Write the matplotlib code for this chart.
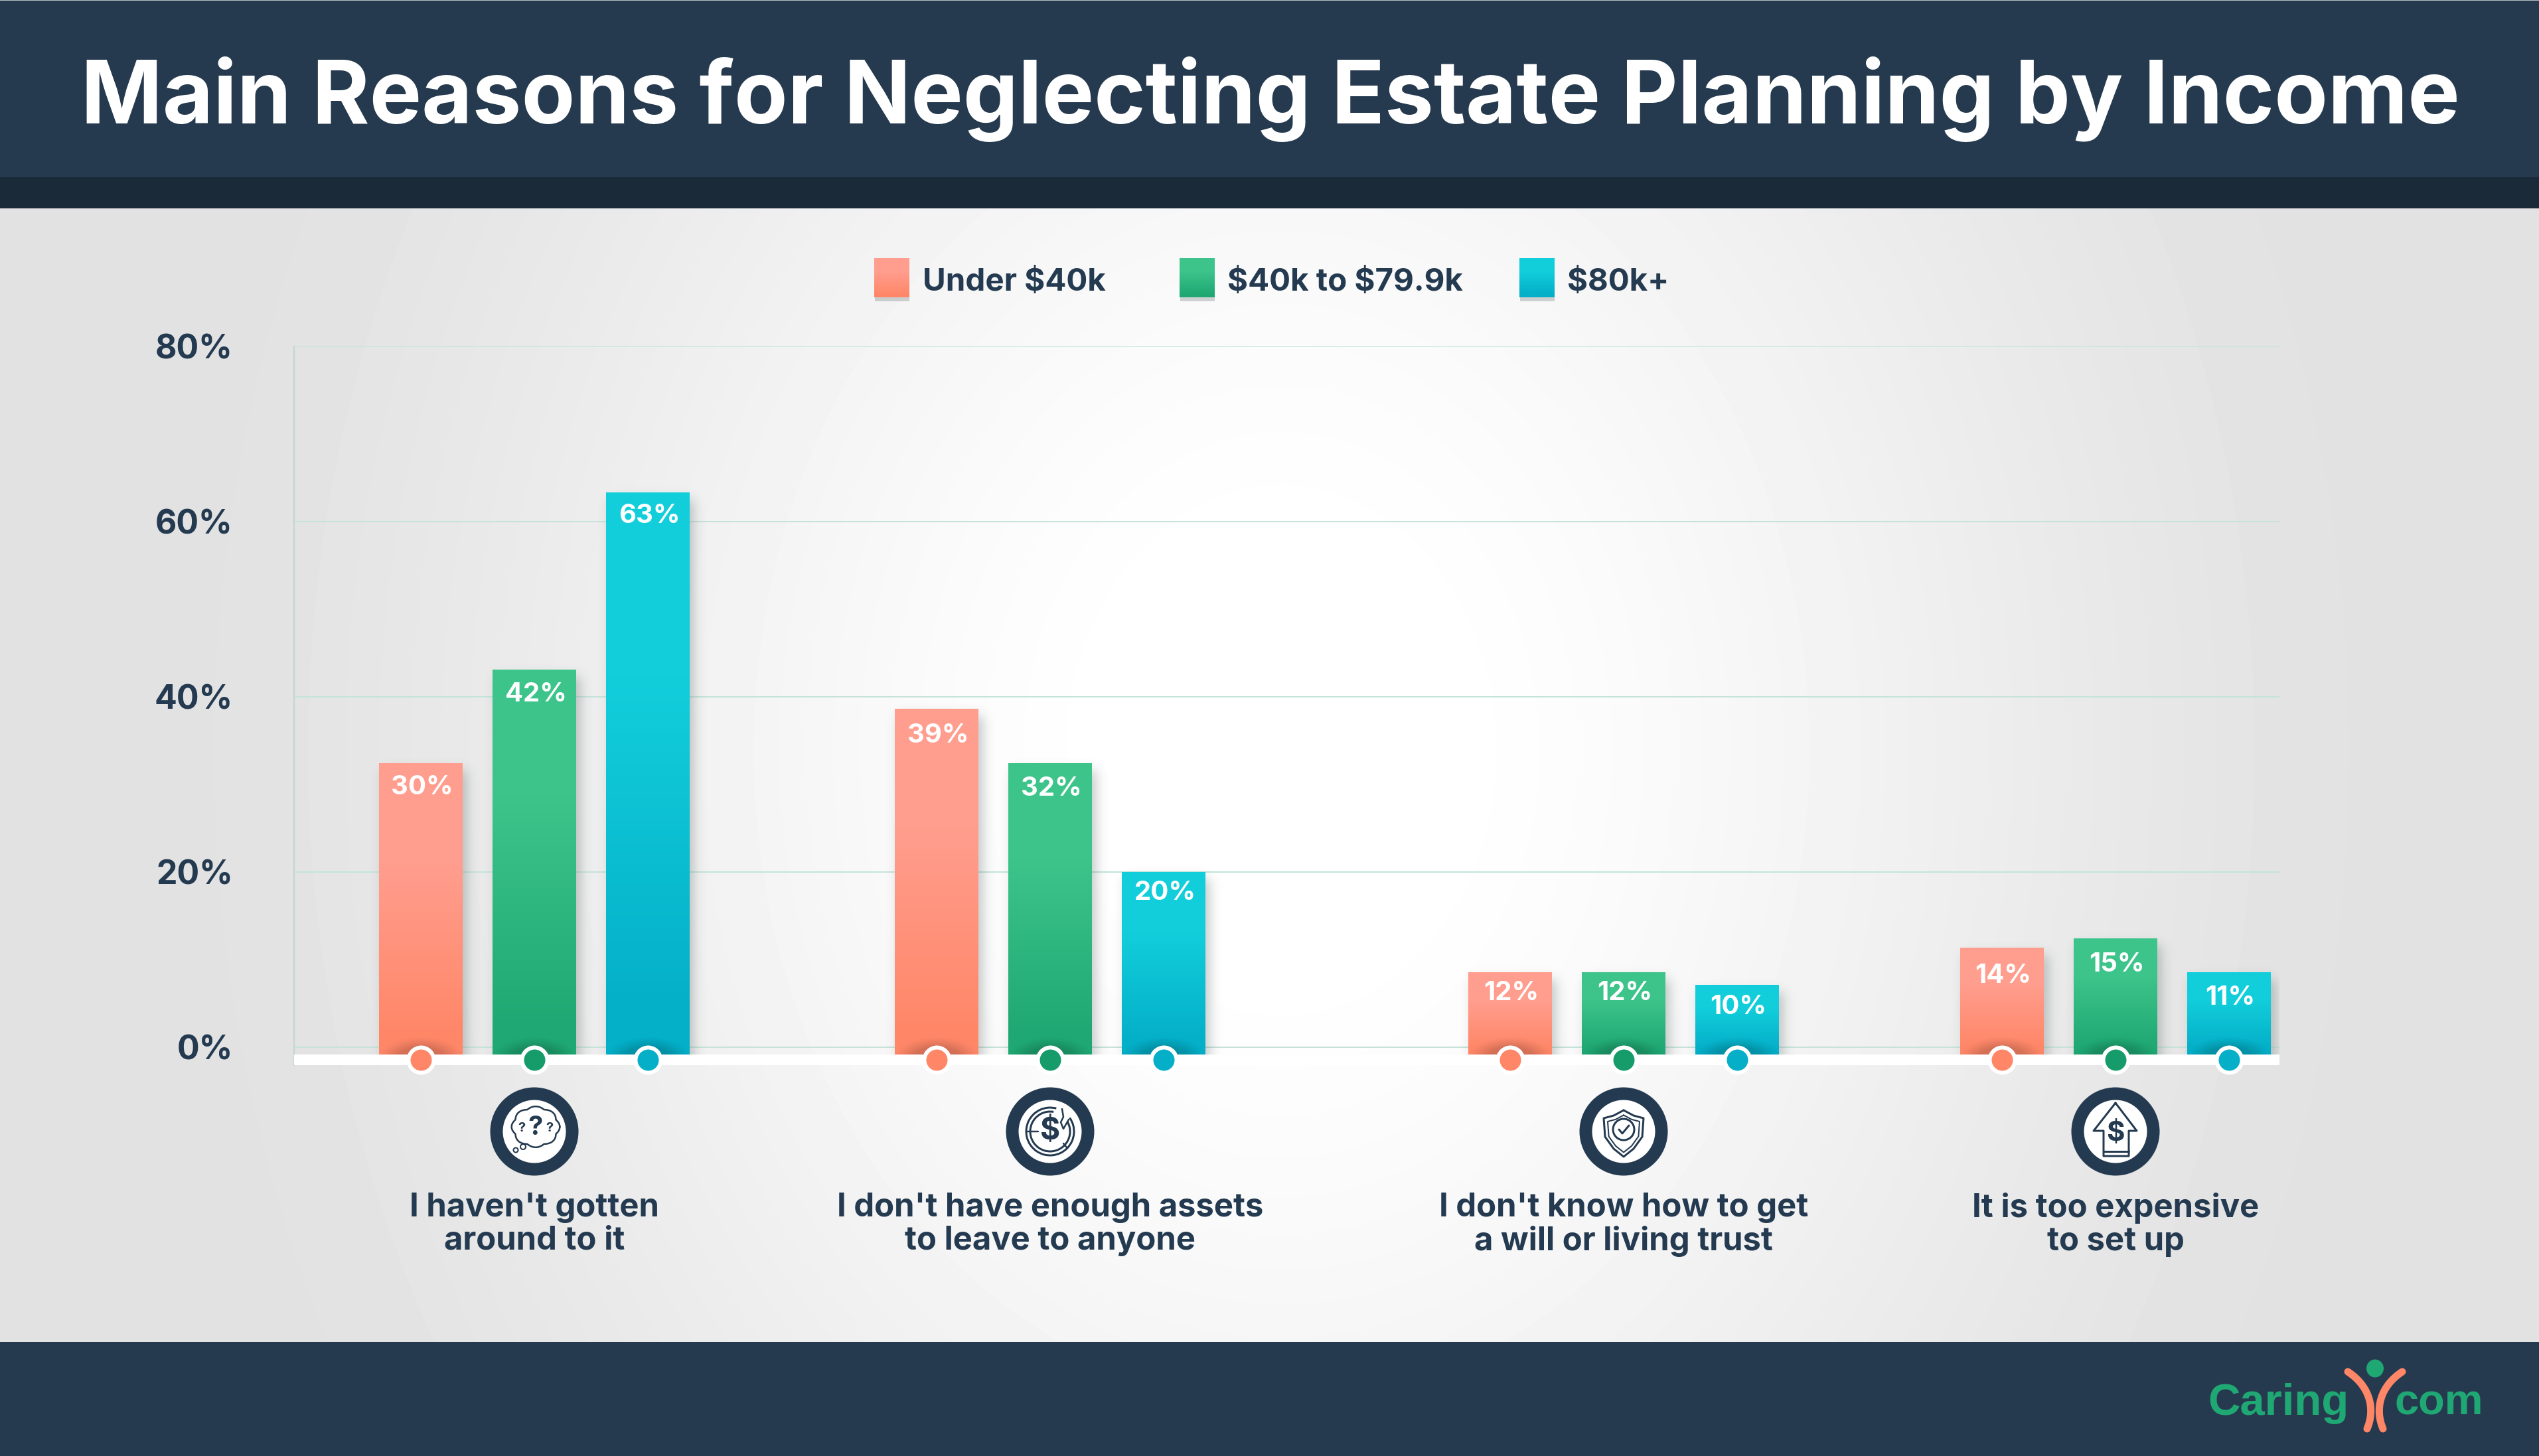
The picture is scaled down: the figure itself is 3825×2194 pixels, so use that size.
import math
import numpy as np
import matplotlib
matplotlib.use("Agg")
import matplotlib.pyplot as plt
from matplotlib.patches import Rectangle, Circle, Ellipse, PathPatch, Arc
from matplotlib.path import Path
from matplotlib.colors import to_rgb

# ---------- data ----------
categories = ["I haven't gotten\naround to it",
              "I don't have enough assets\nto leave to anyone",
              "I don't know how to get\na will or living trust",
              "It is too expensive\nto set up"]
series_names = ["Under $40k", "$40k to $79.9k", "$80k+"]
# bar heights as drawn
under_40k = [32.4, 38.6, 8.5, 11.3]
mid_40_80k = [43.1, 32.4, 8.5, 12.4]
over_80k = [63.3, 20.0, 7.1, 8.5]
# labels printed on the bars
under_40k_labels = ["30%", "39%", "12%", "14%"]
mid_40_80k_labels = ["42%", "32%", "12%", "15%"]
over_80k_labels = ["63%", "20%", "10%", "11%"]
y_ticks = [0, 20, 40, 60, 80]
title = "Main Reasons for Neglecting Estate Planning by Income"

# ---------- style / layout ----------
W, H = 3825, 2194
FONT = "Inter"
NAVY = "#263A4F"
TEXT = "#243A50"
BAND = "#1B2A38"
TOPS = ["#FF9E8F", "#3DC48B", "#12CEDB"]
BOTS = ["#FF8768", "#1FA873", "#04AFC8"]
DOTS = ["#FF8768", "#169C6B", "#05AFC8"]
GROUP_X = [805, 1582, 2446, 3187]
OFFS = [-171, 0, 171]
BAR_W = 126
PX_PER = 13.2
Y0 = 1578
BASE_PX = 1589
LABEL_OFF = [[36, 40, 31, 42], [37, 38, 31, 39], [35, 31, 33, 38]]
px = 72 / 100  # points per image pixel


def val(py):
    return (Y0 - py) / PX_PER


fig = plt.figure(figsize=(W / 100, H / 100), dpi=100)

# ---------- background ----------
bg = fig.add_axes([0, 0, 1, 1], zorder=0)
bg.set_xlim(0, W); bg.set_ylim(H, 0); bg.axis("off")
yy, xx = np.mgrid[0:H:4, 0:W:4]
t = np.sqrt(((xx - 1930) / 1620.0) ** 2 + ((yy - 1130) / 2000.0) ** 2)
t = np.clip((t - 0.15) / 0.85, 0, 1)
t = t * t * (3 - 2 * t) * 0.5 + t * 0.5
v = 1 - t * (1 - 0xE2 / 255)
bg.imshow(v, cmap="gray", vmin=0, vmax=1, extent=(0, W, H, 0), aspect="auto", interpolation="bilinear")
bg.set_xlim(0, W); bg.set_ylim(H, 0)
bg.add_patch(Rectangle((0, 0), W, 267, fc=NAVY, ec="none"))
bg.add_patch(Rectangle((0, 0), W, 1, fc="#B8BEC4", ec="none"))
bg.add_patch(Rectangle((0, 267), W, 47, fc=BAND, ec="none"))
bg.add_patch(Rectangle((0, 2022), W, H - 2022, fc=NAVY, ec="none"))

# ---------- chart ----------
top_px, bot_px = 522, 1605
ax = fig.add_axes([443 / W, 1 - bot_px / H, (3434 - 443) / W, (bot_px - top_px) / H], zorder=1)
ax.patch.set_visible(False)
ax.set_xlim(443, 3434)
ax.set_ylim(val(bot_px), 80)
for s in ["top", "right", "bottom"]:
    ax.spines[s].set_visible(False)
ax.spines["left"].set_color("#C4D4D0")
ax.spines["left"].set_linewidth(2 * px)
ax.set_yticks(y_ticks)
ax.set_yticklabels([f"{v}%" for v in y_ticks], fontsize=50 * px, fontweight="bold",
                   color=TEXT, family=FONT, va="center_baseline")
ax.tick_params(axis="y", length=0, pad=92 * px)
ax.set_xticks(GROUP_X)
ax.set_xticklabels(categories, fontsize=49 * px, fontweight="bold", color=TEXT, family=FONT, linespacing=1.1)
ax.tick_params(axis="x", length=0, pad=192 * px)
ax.grid(axis="y", color="#C5E3DB", lw=2 * px, zorder=1)
ax.set_axisbelow(True)

base = val(BASE_PX)
all_vals = [under_40k, mid_40_80k, over_80k]
all_labels = [under_40k_labels, mid_40_80k_labels, over_80k_labels]
erf = np.vectorize(math.erf)


def phi(a):
    return 0.5 * (1 + erf(a / (9 * math.sqrt(2))))


def gradient(c_top, c_bot, n=256):
    g = np.clip((np.linspace(0, 1, n) - 0.33) / 0.6, 0, 1)[:, None, None]
    a, b = np.array(to_rgb(c_top)), np.array(to_rgb(c_bot))
    return a[None, None, :] * (1 - g) + b[None, None, :] * g


for si, (vals, labels) in enumerate(zip(all_vals, all_labels)):
    xs = [g + OFFS[si] for g in GROUP_X]
    heights = [v - base for v in vals]
    bars = ax.bar(xs, heights, bottom=base, width=BAR_W, color=BOTS[si], zorder=3)
    for bi, rect in enumerate(bars):
        x0, x1 = rect.get_x(), rect.get_x() + BAR_W
        top = vals[bi]
        top_y = Y0 - top * PX_PER
        # soft drop shadow
        gy, gx = np.mgrid[top_y - 30:BASE_PX:2.0, x0 - 35:x1 + 50:2.0]
        sx0, sx1, sy0, sy1 = x0 + 6, x1 + 6, top_y + 10, BASE_PX + 40
        alpha = 0.30 * (phi(gx - sx0) - phi(gx - sx1)) * (phi(gy - sy0) - phi(gy - sy1))
        img = np.zeros(alpha.shape + (4,))
        img[..., :3] = (0.25, 0.30, 0.30)
        img[..., 3] = alpha
        ax.imshow(img, extent=(x0 - 35, x1 + 50, base, val(top_y - 30)), origin="upper", aspect="auto",
                  zorder=2, interpolation="bilinear")
        # gradient fill
        ax.imshow(gradient(TOPS[si], BOTS[si]), extent=(x0, x1, base, top), origin="upper", aspect="auto",
                  zorder=3.1, interpolation="bilinear")
        # dark halo around the marker
        hy, hx = np.mgrid[BASE_PX - 40:BASE_PX:1.0, x0:x1:1.0]
        q = np.sqrt(((hx - (x0 + x1) / 2) / 68.0) ** 2 + ((hy - 1597) / 36.0) ** 2)
        a = 0.17 * np.clip((1 - q) / 0.45, 0, 1) ** 1.3
        himg = np.zeros(a.shape + (4,))
        himg[..., 3] = a
        ax.imshow(himg, extent=(x0, x1, base, val(BASE_PX - 40)), origin="upper", aspect="auto",
                  zorder=3.2, interpolation="bilinear")
        ax.text((x0 + x1) / 2 + 2, val(top_y + LABEL_OFF[si][bi]), labels[bi], color="white", ha="center",
                va="center", fontsize=40 * px, fontweight="bold", family=FONT, zorder=7)
    ax.scatter(xs, [val(1597)] * 4, s=(44 * px) ** 2, color="white", zorder=6, clip_on=False, linewidths=0)
    ax.scatter(xs, [val(1597)] * 4, s=(32 * px) ** 2, color=DOTS[si], zorder=6.1, clip_on=False, linewidths=0)

ax.add_patch(Rectangle((443, val(bot_px)), 3434 - 443, base - val(bot_px), fc="white", ec="none", zorder=5))
ax.set_xlim(443, 3434)
ax.set_ylim(val(bot_px), 80)

# ---------- overlay: title, legend, icons, logo ----------
ov = fig.add_axes([0, 0, 1, 1], zorder=2)
ov.set_xlim(0, W); ov.set_ylim(H, 0); ov.axis("off"); ov.patch.set_visible(False)

ov.text(W / 2 + 1, 186, title, color="white", ha="center", va="baseline", fontsize=131.8 * px, fontweight="bold",
        family=FONT)

swatch_x = [1317, 1777, 2289]
legend_x = [1390, 1849, 2361]
for i, name in enumerate(series_names):
    x0 = swatch_x[i]
    ov.add_patch(Rectangle((x0 + 1, 448), 52, 6, fc="#9AA0A0", ec="none", alpha=0.45))
    ov.imshow(gradient(TOPS[i], BOTS[i]), extent=(x0, x0 + 53, 448, 389), origin="upper", aspect="auto",
              interpolation="bilinear")
    ov.text(legend_x[i], 438, name, color=TEXT, ha="left", va="baseline", fontsize=47.5 * px, fontweight="bold",
            family=FONT, parse_math=False)
ov.set_xlim(0, W); ov.set_ylim(H, 0)


def line(pts, lw=3, closed=False, **kw):
    pts = list(pts)
    if closed:
        pts = pts + [pts[0]]
    xs, ys = zip(*pts)
    ov.plot(xs, ys, color=TEXT, lw=lw * px, solid_capstyle="round", solid_joinstyle="round", **kw)


ICON_Y = 1705
for g in GROUP_X:
    ov.add_patch(Circle((g, ICON_Y), 57, fc="white", ec=TEXT, lw=19 * px))

# icon 1: thought cloud with question marks
cx = GROUP_X[0] + 2
th = np.linspace(0, 2 * np.pi, 400)
r = 1 + 0.10 * np.abs(np.cos(4 * th))
line(zip(cx + 33 * r * np.cos(th), ICON_Y - 7 + 28 * r * np.sin(th)), lw=2.5)
ov.text(cx, ICON_Y - 6, "?", color=TEXT, ha="center", va="center", fontsize=40 * px, fontweight="bold", family=FONT)
ov.text(cx - 21, ICON_Y - 5, "?", color=TEXT, ha="center", va="center", fontsize=20 * px, fontweight="bold", family=FONT)
ov.text(cx + 21, ICON_Y - 5, "?", color=TEXT, ha="center", va="center", fontsize=20 * px, fontweight="bold", family=FONT)
ov.add_patch(Circle((cx - 30, ICON_Y + 28), 3.5, fc="white", ec=TEXT, lw=2 * px))
ov.add_patch(Circle((cx - 19, ICON_Y + 23), 4, fc="white", ec=TEXT, lw=2 * px))

# icon 2: coin with a torn edge
cx = GROUP_X[1]
ov.add_patch(Arc((cx, ICON_Y), 72, 72, theta1=-35, theta2=285, color=TEXT, lw=3 * px))
ov.add_patch(Arc((cx, ICON_Y), 60, 60, theta1=-30, theta2=280, color=TEXT, lw=3 * px))
line([(cx + 18, ICON_Y - 34), (cx + 20, ICON_Y - 22), (cx + 16, ICON_Y - 14), (cx + 20, ICON_Y - 4), (cx + 28, ICON_Y - 18)], lw=2.5)
line([(cx - 36, ICON_Y), (cx - 18, ICON_Y)], lw=2.5)
line([(cx + 20, ICON_Y + 18), (cx + 25, ICON_Y + 24)], lw=2.5)
ov.text(cx, ICON_Y, "$", color=TEXT, ha="center", va="center", fontsize=46 * px, fontweight="bold", family=FONT,
        parse_math=False)

# icon 3: shield with check mark
cx = GROUP_X[2]


def shield(k, dy=0):
    return [(cx, ICON_Y - 32 * k + dy), (cx + 15 * k, ICON_Y - 24 * k + dy), (cx + 30 * k, ICON_Y - 20 * k + dy),
            (cx + 28 * k, ICON_Y + 8 * k + dy), (cx + 15 * k, ICON_Y + 26 * k + dy), (cx, ICON_Y + 38 * k + dy),
            (cx - 15 * k, ICON_Y + 26 * k + dy), (cx - 28 * k, ICON_Y + 8 * k + dy), (cx - 30 * k, ICON_Y - 20 * k + dy),
            (cx - 15 * k, ICON_Y - 24 * k + dy)]


line(shield(1), lw=3, closed=True)
line(shield(0.8, 1), lw=2, closed=True)
ov.add_patch(Circle((cx, ICON_Y - 3), 16, fc="none", ec=TEXT, lw=3 * px))
line([(cx - 7, ICON_Y - 3), (cx - 2, ICON_Y + 3), (cx + 8, ICON_Y - 9)], lw=3)

# icon 4: up arrow with dollar sign
cx = GROUP_X[3]
line([(cx, ICON_Y - 43), (cx + 32, ICON_Y - 1), (cx + 20, ICON_Y - 1), (cx + 20, ICON_Y + 37), (cx - 18, ICON_Y + 37),
      (cx - 18, ICON_Y - 1), (cx - 33, ICON_Y - 1)], lw=3, closed=True)
line([(cx - 18, ICON_Y + 30), (cx + 20, ICON_Y + 30)], lw=3)
ov.text(cx, ICON_Y + 3, "$", color=TEXT, ha="center", va="center", fontsize=42 * px, fontweight="bold", family=FONT,
        parse_math=False)

# logo
GREEN = "#1FA873"
CORAL = "#FF8768"
ov.text(3326, 2132, "Caring", color=GREEN, ha="left", va="baseline", fontsize=67 * px, fontweight="bold",
        family="Liberation Sans")
ov.text(3608, 2132, "com", color=GREEN, ha="left", va="baseline", fontsize=65 * px, fontweight="bold",
        family="Liberation Sans")
ov.add_patch(Ellipse((3578, 2062), 26, 27, fc=GREEN, ec="none"))
for pts in ([(3537, 2067), (3572, 2090), (3578, 2125), (3566, 2153)],
            [(3619, 2067), (3584, 2090), (3578, 2125), (3590, 2153)]):
    ov.add_patch(PathPatch(Path(pts, [Path.MOVETO, Path.CURVE4, Path.CURVE4, Path.CURVE4]), fc="none", ec=CORAL,
                           lw=11 * px, capstyle="round"))

fig.savefig("out.png", dpi=100)
